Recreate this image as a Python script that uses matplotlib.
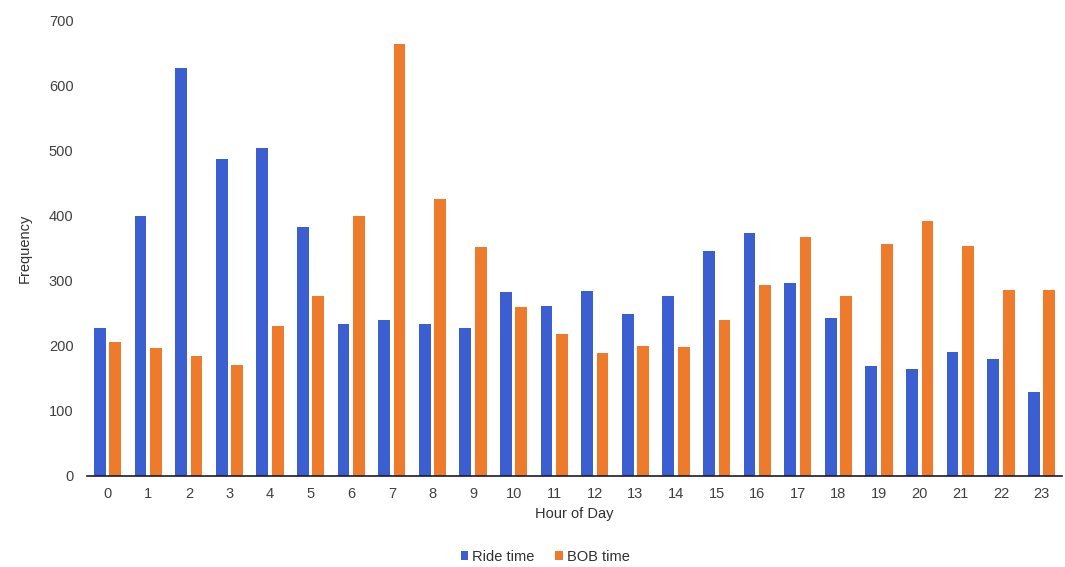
import numpy as np
import matplotlib.pyplot as plt

plt.rcParams['font.family'] = ['Liberation Sans', 'DejaVu Sans']

hours = list(range(24))
ride_time = [228, 400, 627, 486, 503, 382, 233, 239, 233, 227, 282, 261,
             284, 248, 276, 345, 373, 296, 242, 169, 164, 190, 179, 129]
bob_time = [205, 196, 184, 170, 230, 276, 400, 664, 426, 351, 259, 218,
            189, 199, 198, 239, 294, 367, 276, 356, 391, 353, 285, 285]

blue = '#3b5fd0'
orange = '#ee7a2c'

fig = plt.figure(figsize=(10.65, 5.67), dpi=100)
ax = fig.add_axes([0.082, 0.1605, 0.915, 0.804])

x = np.arange(len(hours))
w = 0.29
ax.bar(x - 0.19, ride_time, width=w, color=blue, label='Ride time')
ax.bar(x + 0.19, bob_time, width=w, color=orange, label='BOB time')

ax.set_xlim(-0.5, 23.5)
ax.set_ylim(0, 700)
ax.set_yticks(range(0, 701, 100))
ax.set_xticks(x)
ax.set_xticklabels([str(h) for h in hours])
ax.tick_params(axis='both', length=0, labelsize=10.5, colors='#404040')
ax.tick_params(axis='y', pad=10)
ax.tick_params(axis='x', pad=8)

for s in ['top', 'right', 'left']:
    ax.spines[s].set_visible(False)
ax.spines['bottom'].set_color('#1a1a2e')
ax.spines['bottom'].set_linewidth(1.2)

ax.set_xlabel('Hour of Day', fontsize=10.5, color='#303030', labelpad=4)
ax.set_ylabel('Frequency', fontsize=10.5, color='#303030', labelpad=12)

fig.legend(loc='center', bbox_to_anchor=(0.512, 0.018), ncol=2, frameon=False,
           fontsize=10.5, handlelength=0.5, handleheight=0.5, handletextpad=0.3,
           columnspacing=1.4, labelcolor='#303030')

fig.savefig('out.png', dpi=100)
